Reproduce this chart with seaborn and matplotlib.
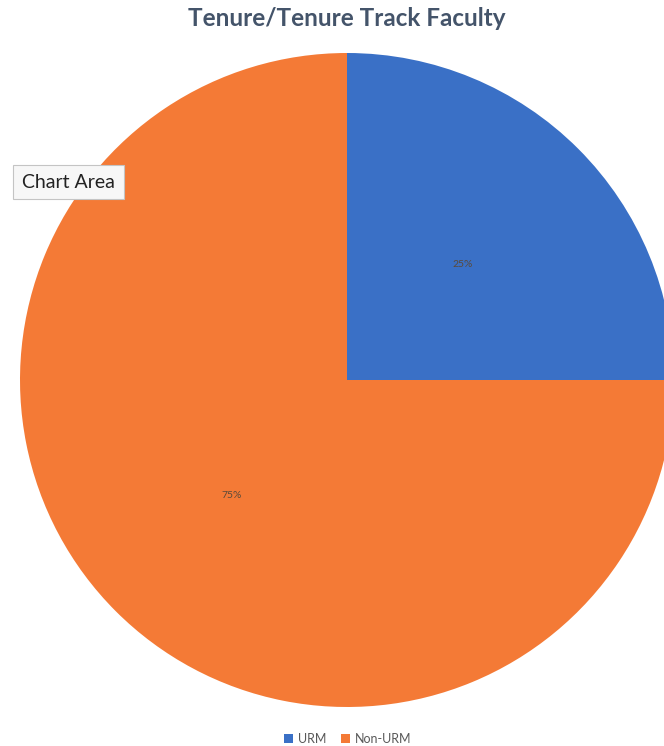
import matplotlib
matplotlib.use("Agg")
import matplotlib.pyplot as plt
import seaborn as sns

categories = ["URM", "Non-URM"]
shares = [25, 75]
colors = ["#3a70c6", "#f47a36"]

sns.set_theme(style="white")
plt.rcParams["font.family"] = ["Lato", "DejaVu Sans"]

fig = plt.figure(figsize=(6.64, 7.46), dpi=100)
W, H = 664, 746
cx, cy, r = 347, 380, 327
ax = fig.add_axes([(cx - r) / W, (H - cy - r) / H, 2 * r / W, 2 * r / H])

wedges, _, autotexts = ax.pie(
    shares, colors=colors, startangle=90, counterclock=False,
    autopct="%d%%", pctdistance=0.5, labels=None,
    textprops=dict(fontsize=7.5, color="#5a4a3a"),
    wedgeprops=dict(linewidth=0),
)
ax.set_xlim(-1, 1)
ax.set_ylim(-1, 1)
ax.set_aspect("equal")
ax.axis("off")

fig.text(347 / W, 1 - 18 / H, "Tenure/Tenure Track Faculty", ha="center", va="center",
         fontsize=17.5, fontweight="bold", color="#44546a")

fig.legend(wedges, categories, loc="center", bbox_to_anchor=(348 / W, 1 - 739 / H),
           ncol=2, frameon=False, fontsize=9, handlelength=0.7, handleheight=0.7,
           columnspacing=1.2, handletextpad=0.4, labelcolor="#595959")

fig.text(22 / W, 1 - 182 / H, "Chart Area", ha="left", va="center", fontsize=14,
         color="#222222",
         bbox=dict(boxstyle="square,pad=0.45", facecolor="#f7f7f7", edgecolor="#c4c4c4",
                   linewidth=0.8))

fig.savefig("out.png", dpi=100)
